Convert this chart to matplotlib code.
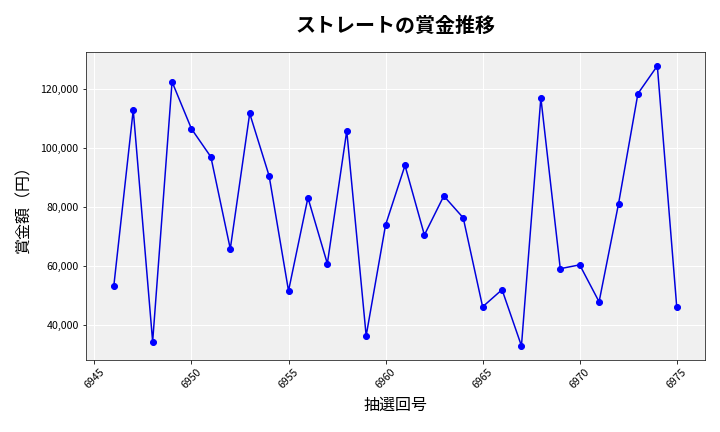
import matplotlib
matplotlib.use('Agg')
import matplotlib.pyplot as plt
from matplotlib.ticker import FuncFormatter

plt.rcParams['font.family'] = ['Noto Sans CJK JP', 'DejaVu Sans']

# 抽選回号と賞金額
draws = list(range(6946, 6976))
prizes = [53400, 112900, 34500, 122400, 106500, 97000, 65900, 111700, 90600, 51700,
          83200, 60900, 105800, 36500, 74000, 94100, 70600, 83800, 76400, 46300,
          52100, 33100, 117000, 59200, 60500, 48000, 81100, 118400, 127800, 46300]

fig = plt.figure(figsize=(10, 6), dpi=72)
ax = fig.add_axes([0.119, 0.167, 0.860, 0.713])
ax.set_facecolor('#f0f0f0')
ax.grid(True, color='white', linewidth=1)
ax.set_axisbelow(True)

ax.plot(draws, prizes, '-o', color='#0000dd', markerfacecolor='blue',
        markeredgecolor='blue', markersize=6, linewidth=1.5)

ax.set_title('ストレートの賞金推移', fontsize=20, fontweight='bold', pad=20)
ax.set_xlabel('抽選回号', fontsize=16, labelpad=6)
ax.set_ylabel('賞金額（円）', fontsize=16, labelpad=8)
ax.yaxis.set_major_formatter(FuncFormatter(lambda v, p: f'{int(v):,}'))
ax.tick_params(axis='both', labelsize=10.5)
plt.setp(ax.get_xticklabels(), rotation=45)
for s in ax.spines.values():
    s.set_color('#222222')

fig.savefig('out.png', dpi=72)
